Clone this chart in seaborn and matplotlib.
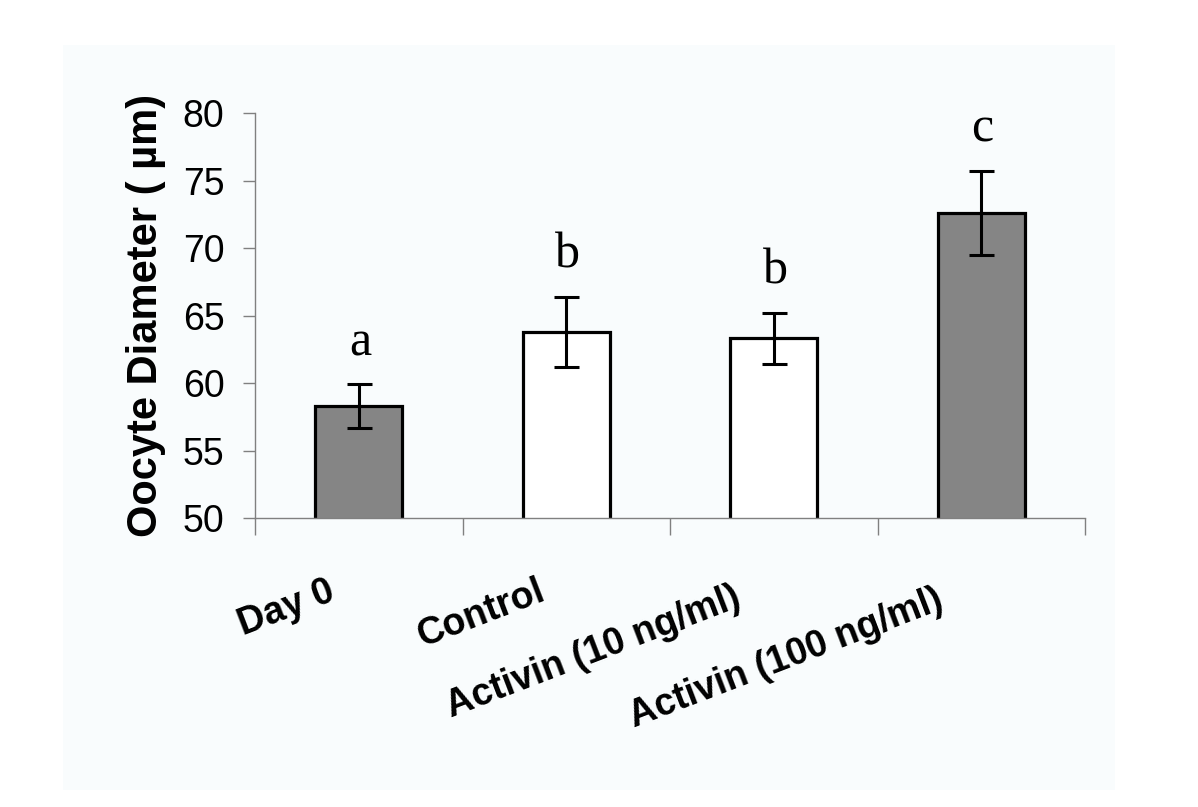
import matplotlib
matplotlib.use("Agg")
import pandas as pd
import seaborn as sns
from matplotlib import pyplot as plt
from matplotlib.patches import Rectangle
from matplotlib.transforms import ScaledTranslation

groups = ["Day 0", "Control", "Activin (10 ng/ml)", "Activin (100 ng/ml)"]
means = [58.3, 63.8, 63.3, 72.6]
sems = [1.6, 2.6, 1.9, 3.1]
letters = ["a", "b", "b", "c"]
bar_colors = ["#858585", "#ffffff", "#ffffff", "#858585"]

df = pd.DataFrame({"group": groups, "diameter": means})

sns.set_style("white")
plt.rcParams["font.family"] = ["Liberation Sans", "DejaVu Sans"]
plt.rcParams["text.color"] = "black"
plt.rcParams["axes.labelcolor"] = "black"

bg = "#f9fcfd"
fig = plt.figure(figsize=(11.98, 8.07), dpi=100)
fig.patch.set_facecolor("white")
fig.patches.append(Rectangle((63 / 1198, 1 - 790 / 807), (1115 - 63) / 1198, (790 - 45) / 807,
                             transform=fig.transFigure, facecolor=bg, edgecolor="none", zorder=-10))
ax = fig.add_axes([255 / 1198, 1 - 518 / 807, 830 / 1198, 405 / 807])
ax.set_facecolor(bg)

sns.barplot(data=df, x="group", y="diameter", hue="group", palette=bar_colors,
            legend=False, width=0.42, edgecolor="black", linewidth=2.3, ax=ax, zorder=2)
ax.errorbar(range(len(groups)), means, yerr=sems, fmt="none", ecolor="black",
            elinewidth=2.2, capsize=9, capthick=2.2, zorder=3)

for i, (m, s, l) in enumerate(zip(means, sems, letters)):
    ax.annotate(l, (i, m + s), xytext=(1, 21), textcoords="offset points",
                ha="center", va="baseline", fontsize=36, family="Liberation Serif")

ax.set_ylim(50, 80)
ax.set_xlim(-0.5, 3.5)
ax.set_yticks(range(50, 81, 5))
ax.tick_params(axis="y", labelsize=27, length=9, width=1, color="#808080",
               labelcolor="black", direction="out", left=True, pad=13)
ax.set_xticks([-0.5, 0.5, 1.5, 2.5, 3.5], minor=True)
ax.tick_params(axis="x", which="minor", length=12, width=1, color="#808080", direction="out", bottom=True)
ax.tick_params(axis="x", which="major", length=0, pad=40, labelcolor="black")
ax.set_xticks(range(len(groups)))
ax.set_xticklabels(groups, rotation=21, ha="right", va="top", fontsize=27,
                   fontweight="bold", rotation_mode="default")
for lbl, dx, dy in zip(ax.get_xticklabels(), [-14, -12, -20, -24], [0, 0, -4, -6]):
    lbl.set_transform(lbl.get_transform() + ScaledTranslation(dx / 72, dy / 72, fig.dpi_scale_trans))

ax.set_xlabel("")
ax.set_ylabel("Oocyte Diameter ( µm)", fontsize=30, fontweight="bold", labelpad=12)

for side in ["top", "right"]:
    ax.spines[side].set_visible(False)
for side in ["left", "bottom"]:
    ax.spines[side].set_color("#808080")
    ax.spines[side].set_linewidth(1)

fig.savefig("out.png", dpi=100, facecolor="white")
